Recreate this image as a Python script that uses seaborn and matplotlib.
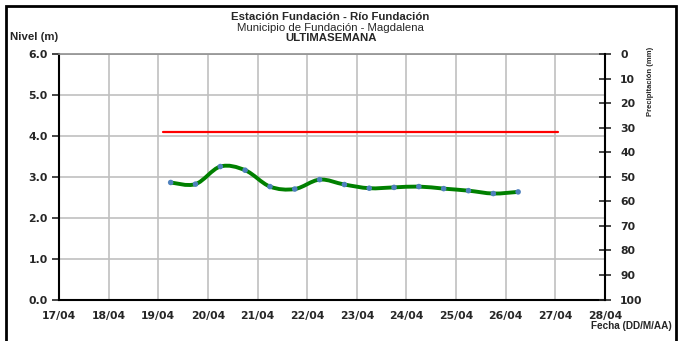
import matplotlib
matplotlib.use("Agg")
import matplotlib.pyplot as plt
import matplotlib.dates as mdates
from matplotlib.path import Path
from matplotlib.patches import PathPatch, Rectangle
import numpy as np
import pandas as pd
import seaborn as sns

# lecturas de nivel (cada 12 h)
fechas = [
    "2024-04-19 06:00", "2024-04-19 18:00", "2024-04-20 06:00", "2024-04-20 18:00",
    "2024-04-21 06:00", "2024-04-21 18:00", "2024-04-22 06:00", "2024-04-22 18:00",
    "2024-04-23 06:00", "2024-04-23 18:00", "2024-04-24 06:00", "2024-04-24 18:00",
    "2024-04-25 06:00", "2024-04-25 18:00", "2024-04-26 06:00",
]
nivel = [2.86, 2.82, 3.25, 3.16, 2.76, 2.70, 2.93, 2.81, 2.72, 2.74, 2.76, 2.71, 2.66, 2.59, 2.63]

# nivel de alerta
alerta_fechas = ["2024-04-19 02:24", "2024-04-27 01:12"]
alerta_nivel = [4.1, 4.1]

dias = ["17/04", "18/04", "19/04", "20/04", "21/04", "22/04",
        "23/04", "24/04", "25/04", "26/04", "27/04", "28/04"]
niveles_ticks = [0, 1, 2, 3, 4, 5, 6]
precip_ticks = [0, 10, 20, 30, 40, 50, 60, 70, 80, 90, 100]

df = pd.DataFrame({"fecha": pd.to_datetime(fechas), "nivel": nivel})
df_alerta = pd.DataFrame({"fecha": pd.to_datetime(alerta_fechas), "nivel": alerta_nivel})
tick_dates = pd.to_datetime(["2024-04-" + d[:2] for d in dias])

sns.set_style("white")
plt.rcParams["font.family"] = ["Liberation Sans", "DejaVu Sans"]
tick_font = {"family": "DejaVu Sans", "size": 7.8, "weight": "bold"}

fig = plt.figure(figsize=(6.79, 3.41), dpi=100)
ax = fig.add_axes([0.0869, 0.1217, 0.8041, 0.7199])

# marco exterior
fig.patches.append(Rectangle((0.009, -0.01), 0.986, 0.993, transform=fig.transFigure,
                             fill=False, edgecolor="black", linewidth=2))

# linea de alerta
sns.lineplot(data=df_alerta, x="fecha", y="nivel", color="#ff0000", linewidth=1.6, ax=ax, zorder=3)

# curva suavizada (bezier, estilo excel)
xs = mdates.date2num(df["fecha"])
ys = df["nivel"].to_numpy()
pts = np.column_stack([xs, ys])
verts = [pts[0]]
codes = [Path.MOVETO]
n = len(pts)
for i in range(n - 1):
    p0 = pts[max(i - 1, 0)]
    p1 = pts[i]
    p2 = pts[i + 1]
    p3 = pts[min(i + 2, n - 1)]
    c1 = p1 + (p2 - p0) / 6
    c2 = p2 - (p3 - p1) / 6
    verts += [c1, c2, p2]
    codes += [Path.CURVE4] * 3
ax.add_patch(PathPatch(Path(verts, codes), facecolor="none", edgecolor="#008000", linewidth=2.8, zorder=4))

sns.scatterplot(data=df, x="fecha", y="nivel", color="#4f81bd", s=16, edgecolor="none", ax=ax, zorder=5)

ax.set_xlim(tick_dates[0], tick_dates[-1])
ax.set_ylim(0, 6)
ax.set_xticks(tick_dates)
ax.set_xticklabels(dias, fontdict=tick_font)
ax.set_yticks(niveles_ticks)
ax.set_yticklabels([f"{v:.1f}" for v in niveles_ticks], fontdict=tick_font)
ax.set_xlabel("")
ax.set_ylabel("")
ax.grid(True, color="#c0c0c0", linewidth=1.2)
ax.set_axisbelow(True)

for side in ["left", "bottom"]:
    ax.spines[side].set_color("black")
    ax.spines[side].set_linewidth(1.5)
ax.spines["top"].set_color("#909090")
ax.spines["top"].set_linewidth(1.2)
ax.spines["right"].set_visible(False)
ax.tick_params(axis="y", direction="out", length=5, width=1.2, pad=3)
ax.tick_params(axis="x", direction="inout", length=7, width=1.2, pad=5)

# eje de precipitacion
ax2 = ax.twinx()
ax2.set_ylim(100, 0)
ax2.set_yticks(precip_ticks)
ax2.set_yticklabels([str(v) for v in precip_ticks], fontdict=tick_font)
ax2.tick_params(axis="y", direction="inout", length=8, width=1.2, pad=7)
for side in ["left", "top", "bottom"]:
    ax2.spines[side].set_visible(False)
ax2.spines["right"].set_color("black")
ax2.spines["right"].set_linewidth(1.5)
ax2.grid(False)

fig.text(0.958, 0.76, "Precipitación (mm)", rotation=90, fontsize=5.5, fontweight="bold",
         ha="center", va="center")

fig.text(0.487, 0.95, "Estación Fundación - Río Fundación", fontsize=8.2, fontweight="bold",
         ha="center", va="center")
fig.text(0.487, 0.919, "Municipio de Fundación - Magdalena", fontsize=8.2, ha="center", va="center")
fig.text(0.487, 0.888, "ULTIMASEMANA", fontsize=8.2, fontweight="bold", ha="center", va="center")
fig.text(0.015, 0.892, "Nivel (m)", fontsize=8.2, fontweight="bold", ha="left", va="center")
fig.text(0.99, 0.044, "Fecha (DD/M/AA)", fontsize=7.2, fontweight="bold", ha="right", va="center")

fig.savefig("out.png", dpi=100)
